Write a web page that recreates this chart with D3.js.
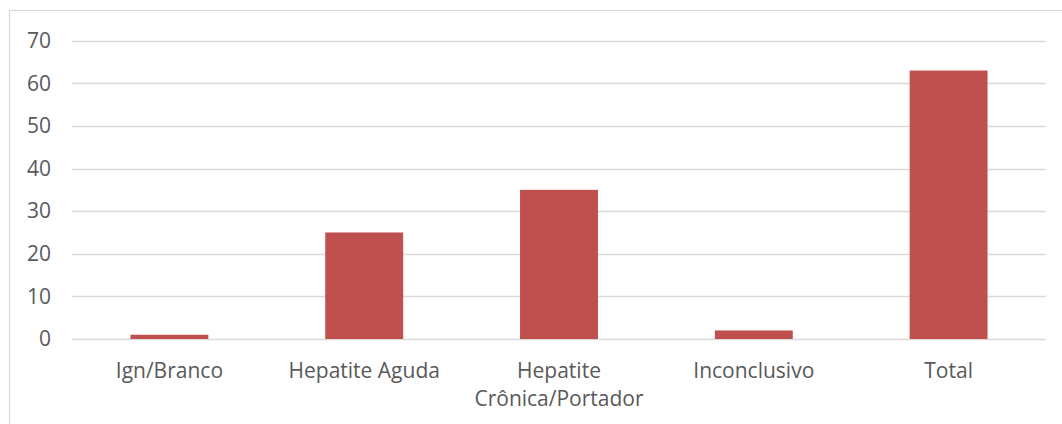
<!DOCTYPE html>
<html><head><meta charset="utf-8">
<script src="https://cdn.jsdelivr.net/npm/d3@7"></script>
<style>html,body{margin:0;padding:0;background:#fff;}svg{display:block;}</style>
</head><body>
<svg id="chart" width="1062" height="424"></svg>
<script>
const categories = ["Ign/Branco", "Hepatite Aguda", "Hepatite\nCrônica/Portador", "Inconclusivo", "Total"];
const values = [1, 25, 35, 2, 63];
const yTicks = [0, 10, 20, 30, 40, 50, 60, 70];

const svg = d3.select("#chart");
const font = "'Open Sans', sans-serif";

svg.append("rect").attr("x", 9.5).attr("y", 10.5).attr("width", 1080).attr("height", 440)
  .attr("fill", "#fff").attr("stroke", "#d9d9d9").attr("stroke-width", 1.2);

const x = d3.scaleBand().domain(categories).range([72, 1046]).paddingInner(0.6).paddingOuter(0.3);
const y = d3.scaleLinear().domain([0, 70]).range([339, 40.7]);

const grid = svg.append("g");
grid.selectAll("line").data(yTicks).join("line")
  .attr("x1", 72).attr("x2", 1046)
  .attr("y1", d => Math.round(y(d)) + 0.5).attr("y2", d => Math.round(y(d)) + 0.5)
  .attr("stroke", "#d9d9d9").attr("stroke-width", 1.5);

const yAxis = d3.axisLeft(y).tickValues(yTicks).tickSize(0).tickPadding(0);
const ga = svg.append("g").attr("transform", "translate(51,0)").call(yAxis);
ga.select(".domain").remove();
ga.selectAll("text").attr("font-family", font).attr("font-size", 21).attr("fill", "#595959");

svg.append("g").selectAll("rect").data(values).join("rect")
  .attr("x", (d, i) => x(categories[i]))
  .attr("width", x.bandwidth())
  .attr("y", d => y(d))
  .attr("height", d => y(0) - y(d))
  .attr("fill", "#C0504D");

const xAxis = d3.axisBottom(x).tickSize(0).tickPadding(0).tickFormat(() => "");
const gx = svg.append("g").attr("transform", "translate(0,339)").call(xAxis);
gx.select(".domain").remove();
gx.selectAll(".tick").each(function(d) {
  const t = d3.select(this).select("text").text(null)
    .attr("font-family", font).attr("font-size", 21).attr("fill", "#595959")
    .attr("y", 0).attr("dy", null);
  d.split("\n").forEach((line, k) => {
    t.append("tspan").attr("x", 0).attr("y", 39 + k * 28).text(line);
  });
});
</script>
</body></html>
